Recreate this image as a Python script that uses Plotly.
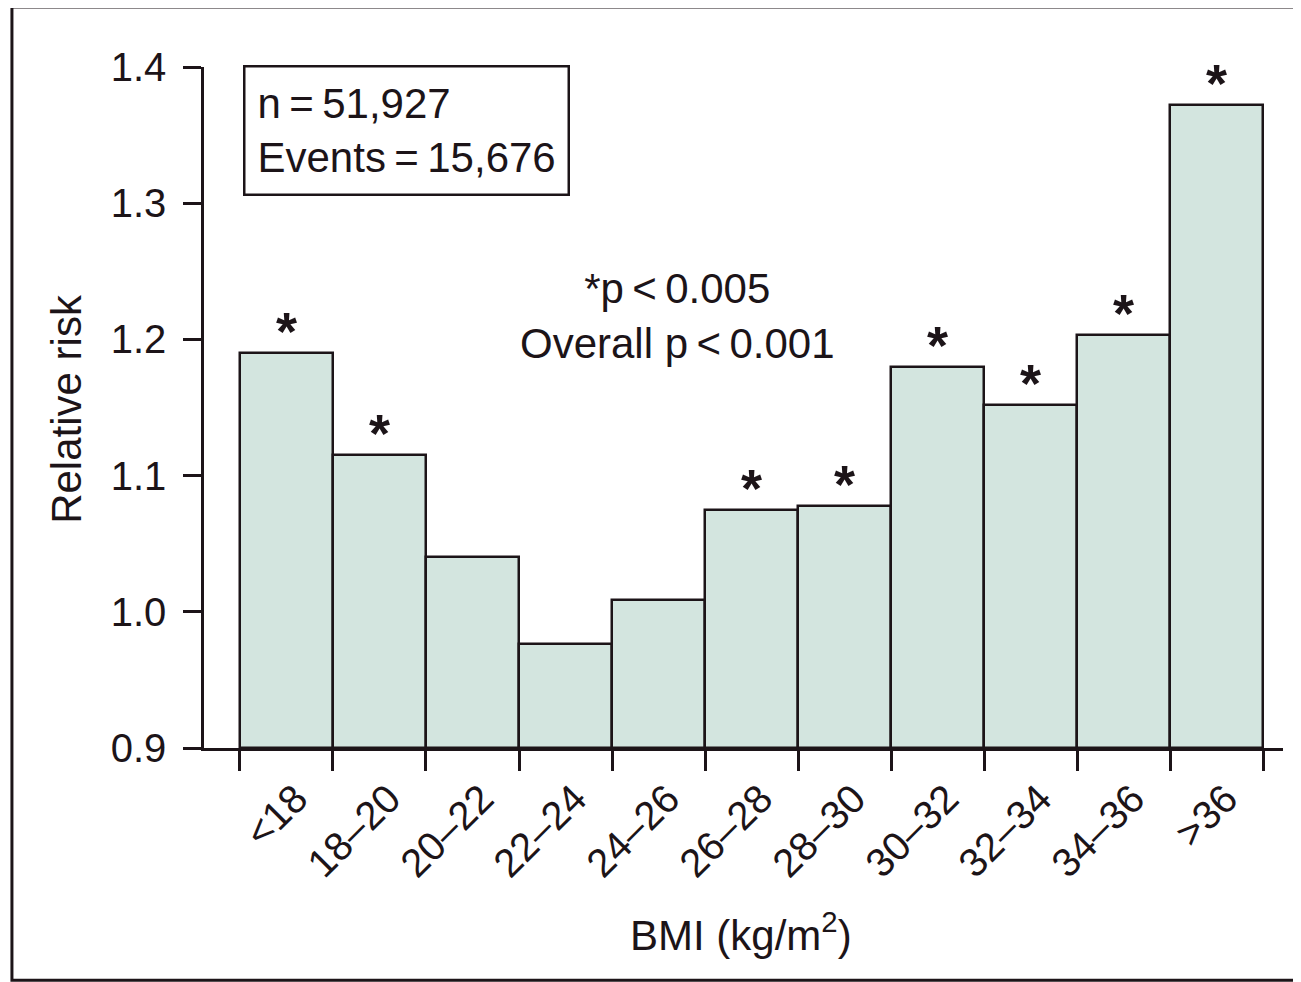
"""Relative risk by BMI category, bar chart with significance stars."""

import plotly.graph_objects as go

BMI_LABELS = ["<18", "18–20", "20–22", "22–24", "24–26", "26–28",
              "28–30", "30–32", "32–34", "34–36", ">36"]
RELATIVE_RISK = [1.190, 1.115, 1.040, 0.976, 1.009, 1.075,
                 1.078, 1.180, 1.152, 1.203, 1.372]
SIGNIFICANT = [True, True, False, False, False, True,
               True, True, True, True, True]
Y_TICKS = [0.9, 1.0, 1.1, 1.2, 1.3, 1.4]

FONT = "Liberation Sans, Arial, sans-serif"
INK = "#1c1418"
FILL = "#d3e5df"
THIN = "\u2009"

positions = list(range(len(BMI_LABELS)))
edges = [p - 0.5 for p in positions] + [positions[-1] + 0.5]
x_range = [-0.887, len(BMI_LABELS) - 0.5 + 0.215]

fig = go.Figure()
fig.add_trace(
    go.Bar(
        x=positions,
        y=[v - 0.9 for v in RELATIVE_RISK],
        base=0.9,
        width=1.0,
        marker={"color": FILL, "line": {"color": INK, "width": 2.5}},
        showlegend=False,
        hoverinfo="skip",
    )
)
# invisible trace so the label axis exists
fig.add_trace(
    go.Scatter(x=positions, y=RELATIVE_RISK, mode="markers", xaxis="x2",
               marker={"opacity": 0}, showlegend=False, hoverinfo="skip")
)

# significance stars above the bars
for pos, value, sig in zip(positions, RELATIVE_RISK, SIGNIFICANT):
    if sig:
        fig.add_annotation(
            x=pos, y=value, xref="x", yref="y",
            text="<b>*</b>", showarrow=False,
            yanchor="middle", yshift=22,
            font={"family": FONT, "size": 54, "color": INK},
        )

# the page body adds an 8px offset, so the figure is 8px smaller
fig.update_layout(
    width=1293,
    height=974,
    margin={"l": 196, "r": 18, "t": 59, "b": 234},
    paper_bgcolor="white",
    plot_bgcolor="white",
    font={"family": FONT, "color": INK},
    bargap=0,
    xaxis={
        "range": x_range,
        "tickmode": "array",
        "tickvals": edges,
        "showticklabels": False,
        "ticks": "outside",
        "ticklen": 20,
        "tickwidth": 2.5,
        "tickcolor": INK,
        "showline": True,
        "linecolor": INK,
        "linewidth": 2.5,
        "showgrid": False,
        "zeroline": False,
    },
    xaxis2={
        "overlaying": "x",
        "anchor": "y",
        "side": "bottom",
        "range": [x_range[0] - 0.1, x_range[1] - 0.1],
        "tickmode": "array",
        "tickvals": positions,
        "ticktext": BMI_LABELS,
        "tickangle": -45,
        "ticks": "outside",
        "ticklen": 10,
        "tickcolor": "rgba(0,0,0,0)",
        "tickfont": {"family": FONT, "size": 40, "color": INK},
        "showline": False,
        "showgrid": False,
        "zeroline": False,
    },
    yaxis={
        "range": [0.9, 1.4],
        "tickmode": "array",
        "tickvals": Y_TICKS,
        "tickformat": ".1f",
        "ticks": "outside",
        "ticklen": 18,
        "tickwidth": 2.5,
        "tickcolor": INK,
        "tickfont": {"family": FONT, "size": 40, "color": INK},
        "ticklabelstandoff": 9,
        "showline": True,
        "linecolor": INK,
        "linewidth": 2.5,
        "showgrid": False,
        "zeroline": False,
    },
)

fig.add_annotation(
    x=0.036, y=1.003, xref="paper", yref="paper",
    xanchor="left", yanchor="top",
    text=f"n{THIN}={THIN}51,927<br>Events{THIN}={THIN}15,676",
    align="left", showarrow=False,
    font={"family": FONT, "size": 42, "color": INK},
    bordercolor=INK, borderwidth=2.5, borderpad=12,
    bgcolor="white",
)
fig.add_annotation(
    x=4.2, y=1.217, xref="x", yref="y",
    text=f"*p{THIN}<{THIN}0.005<br>Overall p{THIN}<{THIN}0.001",
    align="center", showarrow=False,
    font={"family": FONT, "size": 42, "color": INK},
)
fig.add_annotation(
    x=-0.127, y=0.498, xref="paper", yref="paper",
    xanchor="center", yanchor="middle", textangle=-90,
    text="Relative risk", showarrow=False,
    font={"family": FONT, "size": 42, "color": INK},
)
fig.add_annotation(
    x=0.498, y=-0.27, xref="paper", yref="paper",
    xanchor="center", yanchor="middle",
    text="BMI (kg/m<sup>2</sup>)", showarrow=False,
    font={"family": FONT, "size": 42, "color": INK},
)
# frame around the figure
fig.add_shape(
    type="rect", xref="paper", yref="paper",
    x0=-0.178, x1=1.03, y0=-0.341, y1=1.088,
    line={"color": INK, "width": 3},
)

fig.write_html("out.html")
